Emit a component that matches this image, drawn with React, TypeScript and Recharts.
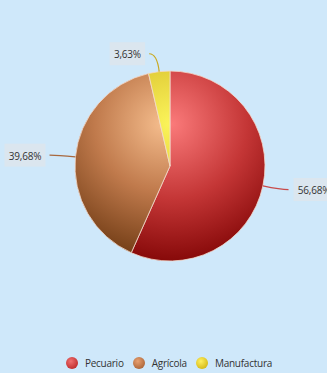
import { Cell, Legend, Pie, PieChart } from "recharts";

const categories = ["Pecuario", "Agrícola", "Manufactura"];
const shares = [56.68, 39.68, 3.63];

const gradIds = ["gRed", "gBrown", "gYellow"];
const lineColors = ["#c84a4a", "#a8683e", "#c8a820"];
const ballColors = [
  ["#f07070", "#b01818"],
  ["#e8a070", "#9a5428"],
  ["#fff060", "#c8a800"],
];

const data = categories.map((name, i) => ({ name, value: shares[i] }));

const RADIAN = Math.PI / 180;
const FONT = "'Open Sans', 'Noto Sans', sans-serif";

function fmt(v: number) {
  return v.toFixed(2).replace(".", ",") + "%";
}

function renderLabel(props: any) {
  const { cx, cy, midAngle, outerRadius, value, index } = props;
  const cos = Math.cos(-midAngle * RADIAN);
  const sin = Math.sin(-midAngle * RADIAN);
  const x0 = cx + outerRadius * cos;
  const y0 = cy + outerRadius * sin;
  const x1 = cx + (outerRadius + 18) * cos;
  const y1 = cy + (outerRadius + 18) * sin;
  const right = cos >= 0;
  const x2 = x1 + (right ? 8 : -8);
  const text = fmt(value);
  const w = text.length * 5.5 + 8;
  const h = 23;
  const bx = right ? x2 + 5 : x2 - 4 - w;
  return (
    <g>
      <path
        d={`M${x0},${y0} Q${x1},${y1} ${x2},${y1}`}
        fill="none"
        stroke={lineColors[index]}
        strokeWidth={1.2}
      />
      <rect x={bx} y={y1 - h / 2} width={w} height={h} fill="#dbe6ef" />
      <text
        x={bx + w / 2}
        y={y1 + 0.5}
        textAnchor="middle"
        dominantBaseline="central"
        fontSize={10}
        letterSpacing={-0.2}
        fontFamily={FONT}
        fill="#333"
      >
        {text}
      </text>
    </g>
  );
}

function renderLegend() {
  return (
    <div
      style={{
        display: "flex",
        justifyContent: "center",
        alignItems: "center",
        paddingLeft: 11,
        fontFamily: FONT,
        fontSize: 10,
        letterSpacing: -0.25,
        color: "#333",
      }}
    >
      {categories.map((c, i) => (
        <div key={c} style={{ display: "flex", alignItems: "center", marginRight: i < 2 ? 9 : 0 }}>
          <span
            style={{
              width: 12,
              height: 12,
              borderRadius: 6,
              marginRight: 7,
              background: `radial-gradient(circle at 40% 35%, ${ballColors[i][0]}, ${ballColors[i][1]})`,
            }}
          />
          {c}
        </div>
      ))}
    </div>
  );
}

export default function App() {
  return (
    <div style={{ position: "fixed", left: 0, top: 0, width: 327, height: 373, background: "#cfe8fa" }}>
      <PieChart width={327} height={373} margin={{ top: 0, right: 0, bottom: 0, left: 0 }}>
        <defs>
          <radialGradient id="gRed" gradientUnits="userSpaceOnUse" cx={172} cy={124} r={150}>
            <stop offset="0%" stopColor="#fa7a7a" />
            <stop offset="50%" stopColor="#c43636" />
            <stop offset="100%" stopColor="#7a0000" />
          </radialGradient>
          <radialGradient id="gBrown" gradientUnits="userSpaceOnUse" cx={162} cy={124} r={150}>
            <stop offset="0%" stopColor="#f4bc8c" />
            <stop offset="45%" stopColor="#c07a4c" />
            <stop offset="100%" stopColor="#62300a" />
          </radialGradient>
          <radialGradient id="gYellow" gradientUnits="userSpaceOnUse" cx={170} cy={124} r={80}>
            <stop offset="0%" stopColor="#fbf45a" />
            <stop offset="100%" stopColor="#d8bf2c" />
          </radialGradient>
        </defs>
        <Pie
          data={data}
          dataKey="value"
          nameKey="name"
          cx={170}
          cy={166}
          outerRadius={95}
          startAngle={90}
          endAngle={-270}
          stroke="#f3d9cc"
          strokeWidth={0.8}
          label={renderLabel}
          labelLine={false}
          isAnimationActive={false}
        >
          {data.map((d, i) => (
            <Cell key={d.name} fill={`url(#${gradIds[i]})`} />
          ))}
        </Pie>
        <Legend content={renderLegend} verticalAlign="bottom" wrapperStyle={{ bottom: 3, left: 0, width: 327 }} />
      </PieChart>
    </div>
  );
}
